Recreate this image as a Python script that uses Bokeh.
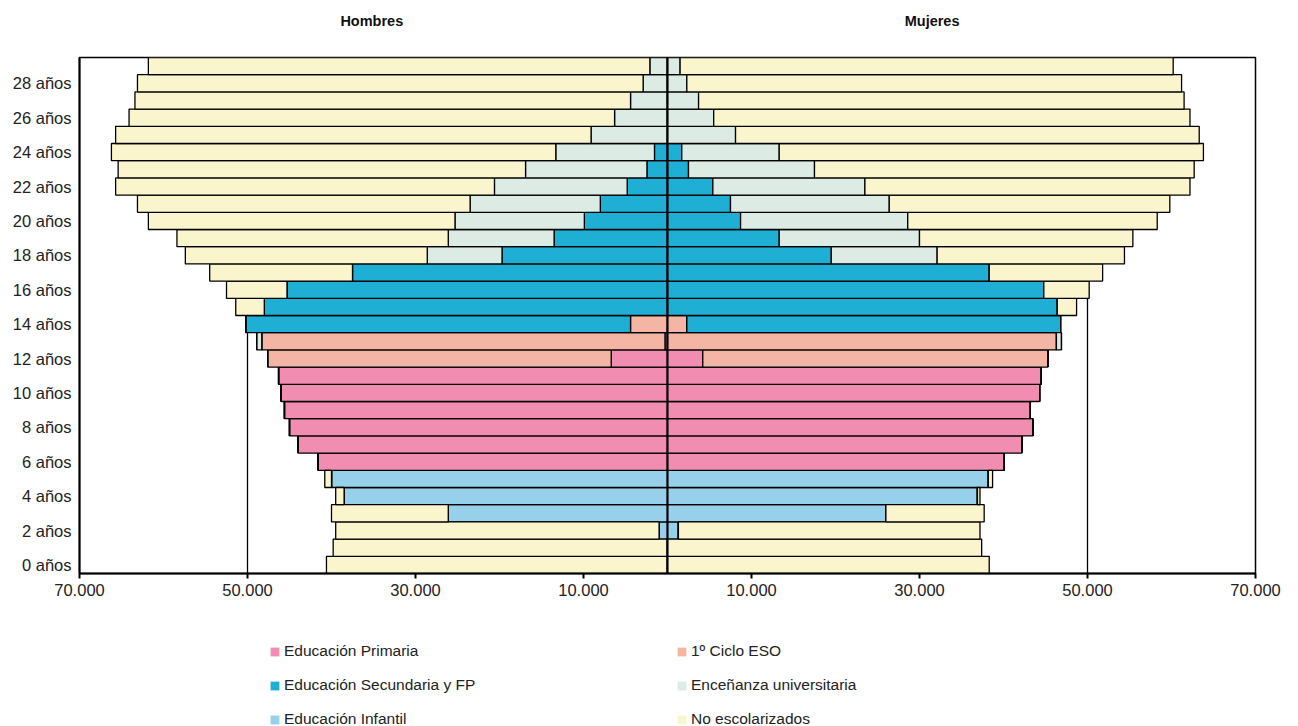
from bokeh.plotting import figure
from bokeh.layouts import column
from bokeh.models import (ColumnDataSource, Range1d, FixedTicker, Legend, LegendItem, Span)
from bokeh.core.properties import value
from bokeh.embed import file_html
from bokeh.resources import INLINE

ages = list(range(30))
age_ticks = list(range(0, 30, 2))
age_labels = {a: f"{a} años" for a in age_ticks}

categories = ["Educación Infantil", "Educación Primaria", "1º Ciclo ESO",
              "Educación Secundaria y FP", "Enceñanza universitaria", "No escolarizados"]
colors = ["#96D0EA", "#F28DB2", "#F4B5A4", "#1FAFD4", "#DCEBE4", "#FAF5CC"]

# Hombres (men), ages 0..29
h_infantil = [0, 0, 1000, 26100, 38500, 40000, 0, 0, 0, 0, 0, 0, 0, 0, 0,
              0, 0, 0, 0, 0, 0, 0, 0, 0, 0, 0, 0, 0, 0, 0]
h_primaria = [0, 0, 0, 0, 0, 0, 41600, 44000, 45000, 45600, 46000, 46300, 6700, 300, 0,
              0, 0, 0, 0, 0, 0, 0, 0, 0, 0, 0, 0, 0, 0, 0]
h_eso = [0, 0, 0, 0, 0, 0, 0, 0, 0, 0, 0, 0, 40900, 48000, 4400,
         0, 0, 0, 0, 0, 0, 0, 0, 0, 0, 0, 0, 0, 0, 0]
h_secundaria = [0, 0, 0, 0, 0, 0, 0, 0, 0, 0, 0, 0, 0, 0, 45800,
                48000, 45300, 37500, 19700, 13500, 9900, 8000, 4800, 2450, 1550, 0, 0, 0, 0, 0]
h_universitaria = [0, 0, 0, 0, 0, 0, 0, 0, 0, 0, 0, 0, 0, 600, 0,
                   0, 0, 0, 8900, 12600, 15400, 15500, 15800, 14450, 11750, 9100, 6300, 4400, 2900, 2100]
h_noesc = [40600, 39800, 38500, 13900, 1000, 800, 0, 0, 0, 0, 0, 0, 0, 0, 0,
           3400, 7200, 17000, 28800, 32300, 36500, 39600, 45100, 48500, 52900, 56600, 57800, 59000, 60200, 59700]

# Mujeres (women), ages 0..29
m_infantil = [0, 0, 1300, 26000, 36900, 38200, 0, 0, 0, 0, 0, 0, 0, 0, 0,
              0, 0, 0, 0, 0, 0, 0, 0, 0, 0, 0, 0, 0, 0, 0]
m_primaria = [0, 0, 0, 0, 0, 0, 40100, 42200, 43500, 43200, 44300, 44500, 4200, 0, 0,
              0, 0, 0, 0, 0, 0, 0, 0, 0, 0, 0, 0, 0, 0, 0]
m_eso = [0, 0, 0, 0, 0, 0, 0, 0, 0, 0, 0, 0, 41100, 46300, 2300,
         0, 0, 0, 0, 0, 0, 0, 0, 0, 0, 0, 0, 0, 0, 0]
m_secundaria = [0, 0, 0, 0, 0, 0, 0, 0, 0, 0, 0, 0, 0, 0, 44500,
                46400, 44800, 38300, 19500, 13300, 8700, 7500, 5400, 2500, 1700, 0, 0, 0, 0, 0]
m_universitaria = [0, 0, 0, 0, 0, 0, 0, 0, 0, 0, 0, 0, 0, 600, 0,
                   0, 0, 0, 12600, 16700, 19900, 18900, 18100, 15000, 11600, 8100, 5500, 3700, 2300, 1500]
m_noesc = [38300, 37400, 35900, 11700, 300, 500, 0, 0, 0, 0, 0, 0, 0, 0, 0,
           2300, 5400, 13500, 22300, 25400, 29700, 33400, 38700, 45200, 50500, 55200, 56700, 57800, 58900, 58700]

x_ticks = [-70000, -50000, -30000, -10000, 10000, 30000, 50000, 70000]
x_tick_labels = ["70.000", "50.000", "30.000", "10.000", "10.000", "30.000", "50.000", "70.000"]

side_titles = ["Hombres", "Mujeres"]
side_title_x = [-35200, 31500]

men = [h_infantil, h_primaria, h_eso, h_secundaria, h_universitaria, h_noesc]
women = [m_infantil, m_primaria, m_eso, m_secundaria, m_universitaria, m_noesc]

data = {"age": ages}
h_keys, m_keys = [], []
for i, (hv, mv) in enumerate(zip(men, women)):
    data[f"h{i}"] = [-v for v in hv]
    data[f"m{i}"] = mv
    h_keys.append(f"h{i}")
    m_keys.append(f"m{i}")
src = ColumnDataSource(data)

FONT = "Liberation Sans"
W = 1298
ML, MR = 79, 43
xr = Range1d(-70000, 70000)

# ---- header with the two side titles
hdr = figure(width=W, height=55, output_backend="svg", toolbar_location=None,
             x_range=xr, y_range=Range1d(0, 55), x_axis_type=None, y_axis_type=None,
             min_border_left=ML, min_border_right=MR, min_border_top=0, min_border_bottom=0)
hdr.outline_line_color = None
hdr.text(x=side_title_x, y=[35, 35], text=side_titles, text_align="center", text_baseline="middle",
         text_font=value(FONT), text_font_style="bold", text_font_size="14.5px", text_color="#111111")

# ---- main pyramid
p = figure(width=W, height=553, output_backend="svg", toolbar_location=None,
           x_range=xr, y_range=Range1d(-0.5, 29.5),
           min_border_left=ML, min_border_right=MR, min_border_top=2, min_border_bottom=35)
p.outline_line_color = "black"
p.outline_line_width = 1.5

p.hbar_stack(h_keys, y="age", height=1.0, fill_color=colors, line_color="black",
             line_width=1.3, source=src)
p.hbar_stack(m_keys, y="age", height=1.0, fill_color=colors, line_color="black",
             line_width=1.3, source=src)

p.add_layout(Span(location=0, dimension="height", line_color="black", line_width=2))

p.xaxis.ticker = FixedTicker(ticks=x_ticks)
p.xaxis.major_label_overrides = {t: l for t, l in zip(x_ticks, x_tick_labels)}
p.xaxis.axis_line_width = 2
p.xaxis.axis_line_color = "black"
p.xaxis.major_tick_line_color = "black"
p.xaxis.major_tick_line_width = 2
p.xaxis.major_tick_out = 5
p.xaxis.major_tick_in = 0
p.xaxis.minor_tick_line_color = None
p.xaxis.major_label_text_font = FONT
p.xaxis.major_label_text_font_size = "16.5px"
p.xaxis.major_label_text_color = "#222222"
p.xaxis.major_label_standoff = 5

p.yaxis.ticker = FixedTicker(ticks=age_ticks)
p.yaxis.major_label_overrides = age_labels
p.yaxis.axis_line_width = 2
p.yaxis.axis_line_color = "black"
p.yaxis.major_tick_line_color = None
p.yaxis.minor_tick_line_color = None
p.yaxis.major_label_text_font = FONT
p.yaxis.major_label_text_font_size = "16.5px"
p.yaxis.major_label_text_color = "#222222"
p.yaxis.major_label_standoff = 2

p.xgrid.ticker = FixedTicker(ticks=x_ticks)
p.xgrid.grid_line_color = "black"
p.xgrid.grid_line_width = 1.3
p.ygrid.grid_line_color = None

# ---- legend panel (swatch renderers hold one point outside the visible range)
lf = figure(width=W, height=118, output_backend="svg", toolbar_location=None,
            x_range=Range1d(0, 1), y_range=Range1d(0, 1), x_axis_type=None, y_axis_type=None,
            min_border_left=0, min_border_right=0, min_border_top=0, min_border_bottom=0)
lf.outline_line_color = None
order = [1, 2, 3, 4, 0, 5]
items = []
for i in order:
    r = lf.hbar(y=[-10], left=[-10], right=[-9], height=1, fill_color=colors[i], line_color=None)
    items.append(LegendItem(label=categories[i], renderers=[r]))
legend = Legend(items=items, orientation="horizontal", ncols=2,
                location=(190, -2), padding=0, margin=0, spacing=16,
                glyph_width=11, glyph_height=11, label_standoff=4, label_width=376,
                label_text_font=FONT, label_text_font_size="15.5px", label_text_color="#222222",
                border_line_color=None, background_fill_alpha=0)
lf.add_layout(legend, "center")

layout = column(hdr, p, lf, spacing=0)
open("out.html", "w").write(file_html(layout, INLINE))
